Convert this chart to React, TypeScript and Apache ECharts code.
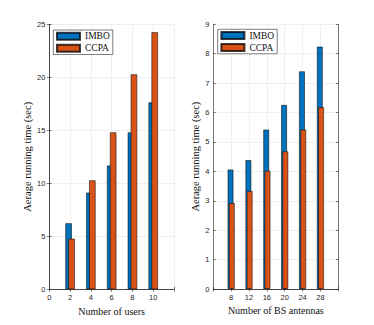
import React, { useEffect, useRef } from "react";
import * as echarts from "echarts";

const users = [2, 4, 6, 8, 10];
const imboUsers = [6.23, 9.12, 11.67, 14.81, 17.64];
const ccpaUsers = [4.78, 10.28, 14.81, 20.28, 24.25];

const antennas = [8, 12, 16, 20, 24, 28];
const imboAnt = [4.06, 4.38, 5.42, 6.26, 7.4, 8.24];
const ccpaAnt = [2.92, 3.33, 4.02, 4.68, 5.42, 6.18];

const seriesNames = ["IMBO", "CCPA"];
const colors = ["#0072BD", "#D95319"];

const xTitle1 = "Number of users";
const xTitle2 = "Number of BS antennas";
const yTitle = "Aerage running time (sec)";

const SANS = "'Liberation Sans', Arial, sans-serif";
const SERIF = "'Liberation Serif', 'Times New Roman', serif";
const AX = "#262626";
const GRIDC = "#e4e4e4";

export default function App() {
  const ref = useRef<HTMLDivElement>(null);
  useEffect(() => {
    document.body.style.margin = "0";
    const chart = echarts.init(ref.current!, undefined, { renderer: "svg" });

    const pairs = (xs: number[], ys: number[]) => xs.map((x, i) => [x, ys[i]]);

    const tickLabel = { fontFamily: SANS, fontSize: 7.5, color: AX };
    const axisLine = { show: true, lineStyle: { color: AX, width: 0.6 } };
    const tick = { show: true, inside: true, length: 2.5, lineStyle: { color: AX, width: 0.6 } };
    const split = { show: true, lineStyle: { color: GRIDC, width: 0.6 } };
    const nameStyle = { fontFamily: SERIF, fontSize: 10, color: "#111" };

    const mkX = (gi: number, min: number, max: number, interval: number, name: string, hide: number[]) => [
      {
        type: "value", gridIndex: gi, min, max, interval, position: "bottom",
        name, nameLocation: "middle", nameGap: 11, nameTextStyle: nameStyle,
        axisLine, axisTick: tick, splitLine: split,
        axisLabel: { ...tickLabel, margin: 4, formatter: (v: number) => (hide.includes(v) ? "" : String(v)) },
      },
      {
        type: "value", gridIndex: gi, min, max, interval, position: "top",
        axisLine, axisTick: tick, splitLine: { show: false }, axisLabel: { show: false },
      },
    ];
    const mkY = (gi: number, max: number, interval: number, gap: number) => [
      {
        type: "value", gridIndex: gi, min: 0, max, interval, position: "left",
        name: yTitle, nameLocation: "middle", nameGap: gap, nameTextStyle: { ...nameStyle, fontSize: 10.5 },
        axisLine, axisTick: tick, splitLine: split,
        axisLabel: { ...tickLabel, margin: 4 },
      },
      {
        type: "value", gridIndex: gi, min: 0, max, interval, position: "right",
        axisLine, axisTick: tick, splitLine: { show: false }, axisLabel: { show: false },
      },
    ];

    const barStyle = (c: string) => ({ color: c, borderColor: "rgba(0,0,0,0.75)", borderWidth: 0.7 });

    const mkLegend = (left: number, top: number) => ({
      left, top, orient: "vertical", data: seriesNames,
      itemWidth: 23, itemHeight: 7, itemGap: 0.5, itemTextGap: 1.5,
      padding: [0.5, 3, 0.5, 2.7], backgroundColor: "#fff",
      borderColor: AX, borderWidth: 0.6, borderRadius: 0,
      icon: "rect",
      textStyle: { fontFamily: SERIF, fontSize: 9.5, color: "#111", lineHeight: 11.5 },
    });

    chart.setOption({
      animation: false,
      backgroundColor: "#fff",
      grid: [
        { left: 49.3, top: 24.3, width: 124.7, height: 265 },
        { left: 213.3, top: 24.3, width: 125, height: 264.7 },
      ],
      xAxis: [
        ...mkX(0, 0, 12, 2, xTitle1, [12]),
        ...mkX(1, 4, 32, 4, xTitle2, [4, 32]),
      ],
      yAxis: [...mkY(0, 25, 5, 15), ...mkY(1, 9, 1, 8)],
      legend: [mkLegend(53.3, 30), mkLegend(217.7, 29.3)],
      series: [
        {
          name: seriesNames[0], type: "bar", xAxisIndex: 0, yAxisIndex: 0,
          data: pairs(users, imboUsers), barWidth: 6.5, barGap: "-54%", itemStyle: barStyle(colors[0]),
        },
        {
          name: seriesNames[1], type: "bar", xAxisIndex: 0, yAxisIndex: 0,
          data: pairs(users, ccpaUsers), barWidth: 6.5, barGap: "-54%", itemStyle: barStyle(colors[1]),
        },
        {
          name: seriesNames[0], type: "bar", xAxisIndex: 2, yAxisIndex: 2,
          data: pairs(antennas, imboAnt), barWidth: 5.8, barGap: "-78%", itemStyle: barStyle(colors[0]),
        },
        {
          name: seriesNames[1], type: "bar", xAxisIndex: 2, yAxisIndex: 2,
          data: pairs(antennas, ccpaAnt), barWidth: 5.8, barGap: "-78%", itemStyle: barStyle(colors[1]),
        },
      ],
    });
    return () => chart.dispose();
  }, []);
  return <div ref={ref} style={{ width: 374, height: 325 }} />;
}
